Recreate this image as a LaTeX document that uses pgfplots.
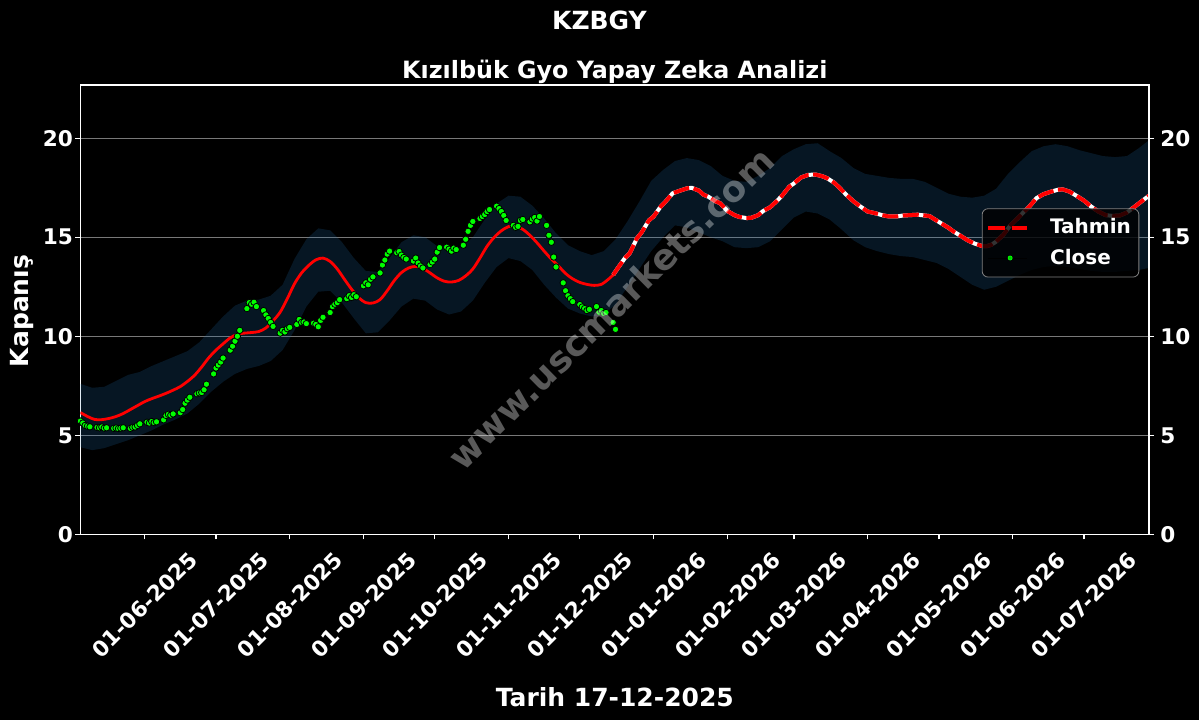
\documentclass[border=0pt]{standalone}
\usepackage{fontspec}
\setmainfont{DejaVu Sans}
\usepackage{xcolor}
\usepackage{pgfplots}
\usepackage{pgfplotstable}
\pgfplotsset{compat=1.18}
\usepgfplotslibrary{fillbetween}

\definecolor{bandblue}{RGB}{30,110,175}
\definecolor{closegreen}{RGB}{0,255,0}
\definecolor{gridgray}{RGB}{120,120,120}
\pagecolor{black}

% x = days since 01-06-2025
\pgfplotstableread{
d p
-27 6.15
-24 5.95
-21 5.80
-18 5.79
-15 5.85
-12 5.95
-9 6.10
-6 6.30
-3 6.50
0 6.70
3 6.85
6 6.98
9 7.12
12 7.28
15 7.46
18 7.72
21 8.03
24 8.45
27 8.92
30 9.30
33 9.62
36 9.92
39 10.10
42 10.16
45 10.19
48 10.24
51 10.42
54 10.78
57 11.22
60 11.90
63 12.65
66 13.20
69 13.58
72 13.86
75 13.95
78 13.78
81 13.40
84 12.88
87 12.38
90 11.95
93 11.70
96 11.68
99 11.85
102 12.30
105 12.82
108 13.22
111 13.45
114 13.53
117 13.43
120 13.20
123 12.95
126 12.78
129 12.74
132 12.82
135 13.05
138 13.40
141 13.95
144 14.55
147 15.00
150 15.33
153 15.54
156 15.56
159 15.40
162 15.10
165 14.72
168 14.30
171 13.90
174 13.55
177 13.17
180 12.90
183 12.72
186 12.62
189 12.57
192 12.62
195 12.88
197 13.10
}\hist

\pgfplotstableread{
d p
197 13.10
199 13.45
202 13.96
204 14.20
207 14.95
209 15.25
212 15.85
214 16.05
217 16.55
219 16.80
222 17.22
225 17.35
228 17.47
230 17.50
233 17.36
235 17.15
237 17.05
240 16.82
242 16.72
245 16.33
248 16.12
250 16.03
253 15.97
255 15.98
258 16.12
260 16.32
263 16.52
266 16.85
268 17.10
271 17.55
273 17.72
276 18.02
279 18.15
282 18.17
285 18.08
287 17.98
290 17.75
292 17.52
295 17.15
298 16.82
301 16.55
304 16.30
307 16.22
310 16.12
313 16.05
316 16.05
319 16.10
322 16.12
325 16.14
328 16.10
330 16.07
332 15.92
335 15.70
338 15.48
340 15.30
343 15.08
346 14.85
349 14.68
352 14.56
354 14.55
356 14.62
358 14.78
361 15.12
364 15.60
367 15.95
370 16.32
372 16.55
375 16.98
378 17.18
381 17.30
384 17.40
386 17.42
389 17.30
392 17.08
395 16.85
398 16.55
401 16.30
404 16.12
407 16.08
410 16.10
413 16.25
416 16.52
419 16.80
422.3 17.10
}\fc

\pgfplotstableread{
d hi lo
-27 7.60 4.40
-22 7.40 4.25
-17 7.45 4.35
-12 7.75 4.55
-7 8.05 4.75
-2 8.20 5.00
3 8.50 5.25
8 8.75 5.55
13 9.00 5.80
18 9.25 6.10
23 9.70 6.60
28 10.35 7.20
33 11.00 7.70
38 11.55 8.10
43 11.80 8.35
48 11.85 8.50
53 12.05 8.75
58 12.60 9.30
63 13.90 10.30
68 14.90 11.50
73 15.45 12.25
78 15.35 12.30
83 14.75 11.70
88 13.95 10.90
93 13.30 10.15
98 13.25 10.20
103 13.95 10.80
108 14.75 11.50
113 15.10 11.90
118 15.00 11.80
123 14.55 11.35
128 14.35 11.10
133 14.50 11.25
138 15.00 11.80
143 15.90 12.70
148 16.70 13.50
153 17.10 13.95
158 17.05 13.80
163 16.60 13.35
168 15.95 12.60
173 15.20 11.95
178 14.60 11.40
183 14.30 11.15
188 14.10 11.00
193 14.30 11.10
198 14.90 11.60
203 15.80 12.50
208 16.80 13.40
213 17.85 14.30
218 18.40 15.00
223 18.85 15.60
228 19.00 15.50
233 18.90 15.25
238 18.60 15.00
243 18.10 14.80
248 17.85 14.50
253 17.80 14.45
258 18.10 14.50
263 18.50 14.80
268 19.10 15.40
273 19.45 16.00
278 19.70 16.30
283 19.75 16.20
288 19.35 15.90
293 19.00 15.40
298 18.50 14.85
303 18.20 14.50
308 18.10 14.30
313 18.00 14.15
318 17.95 14.05
323 17.95 14.00
328 17.80 13.85
333 17.50 13.70
338 17.20 13.40
343 17.05 13.00
348 17.00 12.60
353 17.10 12.35
358 17.45 12.50
363 18.20 12.80
368 18.80 13.10
373 19.35 13.35
378 19.60 13.50
383 19.70 13.55
388 19.60 13.50
393 19.40 13.40
398 19.25 13.30
403 19.10 13.25
408 19.05 13.25
413 19.10 13.30
418 19.50 13.35
422.3 19.90 13.45
}\band

\pgfplotstableread{
d c
-27 5.72
-26 5.62
-25 5.50
-24 5.46
-23 5.43
-20 5.40
-19 5.38
-18 5.42
-17 5.36
-16 5.38
-13 5.35
-12 5.37
-11 5.34
-10 5.36
-9 5.38
-6 5.35
-5 5.40
-4 5.42
-3 5.50
-2 5.58
1 5.66
2 5.62
3 5.70
4 5.64
5 5.68
8 5.78
9 6.00
10 6.06
11 6.02
12 6.08
15 6.14
16 6.30
17 6.62
18 6.78
19 6.92
22 7.10
23 7.14
24 7.16
25 7.30
26 7.58
29 8.10
30 8.40
31 8.55
32 8.70
33 8.90
36 9.30
37 9.50
38 9.75
39 10.00
40 10.30
43 11.40
44 11.70
45 11.62
46 11.72
47 11.50
50 11.30
51 11.08
52 10.90
53 10.70
54 10.50
57 10.16
58 10.30
59 10.22
60 10.38
61 10.45
64 10.60
65 10.85
66 10.70
67 10.72
68 10.64
71 10.66
72 10.60
73 10.48
74 10.80
75 10.96
78 11.20
79 11.50
80 11.62
81 11.70
82 11.85
85 11.90
86 12.05
87 11.96
88 12.10
89 12.00
92 12.55
93 12.70
94 12.60
95 12.88
96 13.00
99 13.20
100 13.60
101 13.85
102 14.15
103 14.30
106 14.22
107 14.28
108 14.10
109 13.98
110 13.90
113 13.80
114 13.95
115 13.70
116 13.55
117 13.45
120 13.62
121 13.75
122 13.90
123 14.25
124 14.48
127 14.50
128 14.40
129 14.30
130 14.45
131 14.38
134 14.60
135 14.90
136 15.30
137 15.60
138 15.80
141 15.95
142 16.05
143 16.15
144 16.30
145 16.40
148 16.57
149 16.45
150 16.30
151 16.10
152 15.85
155 15.60
156 15.50
157 15.55
158 15.85
159 15.90
162 15.78
163 15.92
164 16.00
165 15.82
166 16.05
169 15.60
170 15.10
171 14.75
172 14.00
173 13.50
176 12.70
177 12.30
178 12.05
179 11.90
180 11.75
183 11.60
184 11.48
185 11.40
186 11.30
187 11.36
190 11.50
191 11.22
192 11.30
193 11.15
194 11.20
197 10.70
198 10.35
}\close

\begin{document}
\begin{tikzpicture}
\begin{axis}[
  at={(40.2pt,92.85pt)}, anchor=south west,
  scale only axis, width=534.3pt, height=224.65pt,
  xmin=-27, xmax=422.3, ymin=0, ymax=22.69,
  axis line style={white, line width=0.75pt},
  tick style={white, line width=0.6pt},
  major tick length=2.5pt, tick align=outside,
  xtick pos=bottom, ytick pos=left,
  xtick={0,30,61,92,122,153,183,214,245,273,304,334,365,395},
  xticklabels={01-06-2025,01-07-2025,01-08-2025,01-09-2025,01-10-2025,01-11-2025,01-12-2025,01-01-2026,01-02-2026,01-03-2026,01-04-2026,01-05-2026,01-06-2026,01-07-2026},
  ytick={0,5,10,15,20},
  ymajorgrids, major grid style={gridgray, line width=0.4pt},
  ticklabel style={text=white, font=\bfseries\fontsize{10.8}{13}\selectfont},
  /pgf/number format/assume math mode=true,
  xticklabel style={anchor=center, yshift=-32.7pt, rotate=45},
  yticklabel style={inner xsep=1pt},
  legend cell align=left,
  legend style={at={(0.9909,0.7256)}, anchor=north east,
    draw=gray, rounded corners=3pt, fill=black, fill opacity=0.8, text opacity=1,
    text=white, font=\bfseries\fontsize{10}{12}\selectfont,
    inner xsep=2pt, inner ysep=3pt, row sep=2pt,
    /tikz/every odd column/.append style={column sep=8.5pt}},
]
\addplot[name path=hi, draw=none, forget plot] table[x=d, y=hi] {\band};
\addplot[name path=lo, draw=none, forget plot] table[x=d, y=lo] {\band};
\addplot[bandblue, fill opacity=0.2, forget plot] fill between[of=hi and lo];

\addplot[red, line width=1.4pt, smooth, tension=0.5, forget plot] table[x=d, y=p] {\hist};
\addplot[white, line width=2pt, line join=round, forget plot] table[x=d, y=p] {\fc};
\addplot[red, line width=2pt, line join=round, dash pattern=on 8pt off 2.3pt,
  legend image code/.code={\draw[red, line width=2pt, dash pattern=on 8.3pt off 3.8pt] (0pt,0pt) -- (19.5pt,0pt);}]
  table[x=d, y=p] {\fc};
\addlegendentry{Tahmin}
\addplot[only marks, mark=*, mark size=1.6pt, mark options={draw=none, fill=closegreen},
  legend image code/.code={\path (0pt,0pt) -- (19.5pt,0pt); \fill[closegreen] (11pt,0pt) circle (1pt);}]
  table[x=d, y=c] {\close};
\addlegendentry{Close}
\end{axis}
\begin{axis}[
  at={(40.2pt,92.85pt)}, anchor=south west,
  scale only axis, width=534.3pt, height=224.65pt,
  xmin=-27, xmax=422.3, ymin=0, ymax=22.69,
  axis x line=none, axis y line*=right,
  axis line style={white, line width=0.75pt},
  tick style={white, line width=0.6pt},
  major tick length=2.5pt, tick align=outside,
  ytick={0,5,10,15,20},
  ticklabel style={text=white, font=\bfseries\fontsize{10.8}{13}\selectfont},
  /pgf/number format/assume math mode=true,
  yticklabel style={inner xsep=1pt, xshift=2pt},
]
\addplot[draw=none] coordinates {(0,0)};
\end{axis}
\node[rotate=44.5, anchor=base, text=white, text opacity=0.35,
  font=\bfseries\fontsize{17.9}{20}\selectfont] at (310pt,201pt) {www.uscmarkets.com};
\node[anchor=base, text=white, font=\bfseries\fontsize{12.5}{15}\selectfont] at (299.75pt,345.5pt) {KZBGY};
\node[anchor=base, text=white, font=\bfseries\fontsize{11.9}{14}\selectfont] at (307.4pt,321pt) {Kızılbük Gyo Yapay Zeka Analizi};
\node[anchor=base, text=white, font=\bfseries\fontsize{12.5}{15}\selectfont] at (307.4pt,7pt) {Tarih 17-12-2025};
\node[rotate=90, anchor=center, text=white, font=\bfseries\fontsize{12.5}{15}\selectfont] at (11pt,204.5pt) {Kapanış};
\pgfresetboundingbox
\useasboundingbox (0,0) rectangle (599.5pt,360pt);
\end{tikzpicture}
\end{document}
